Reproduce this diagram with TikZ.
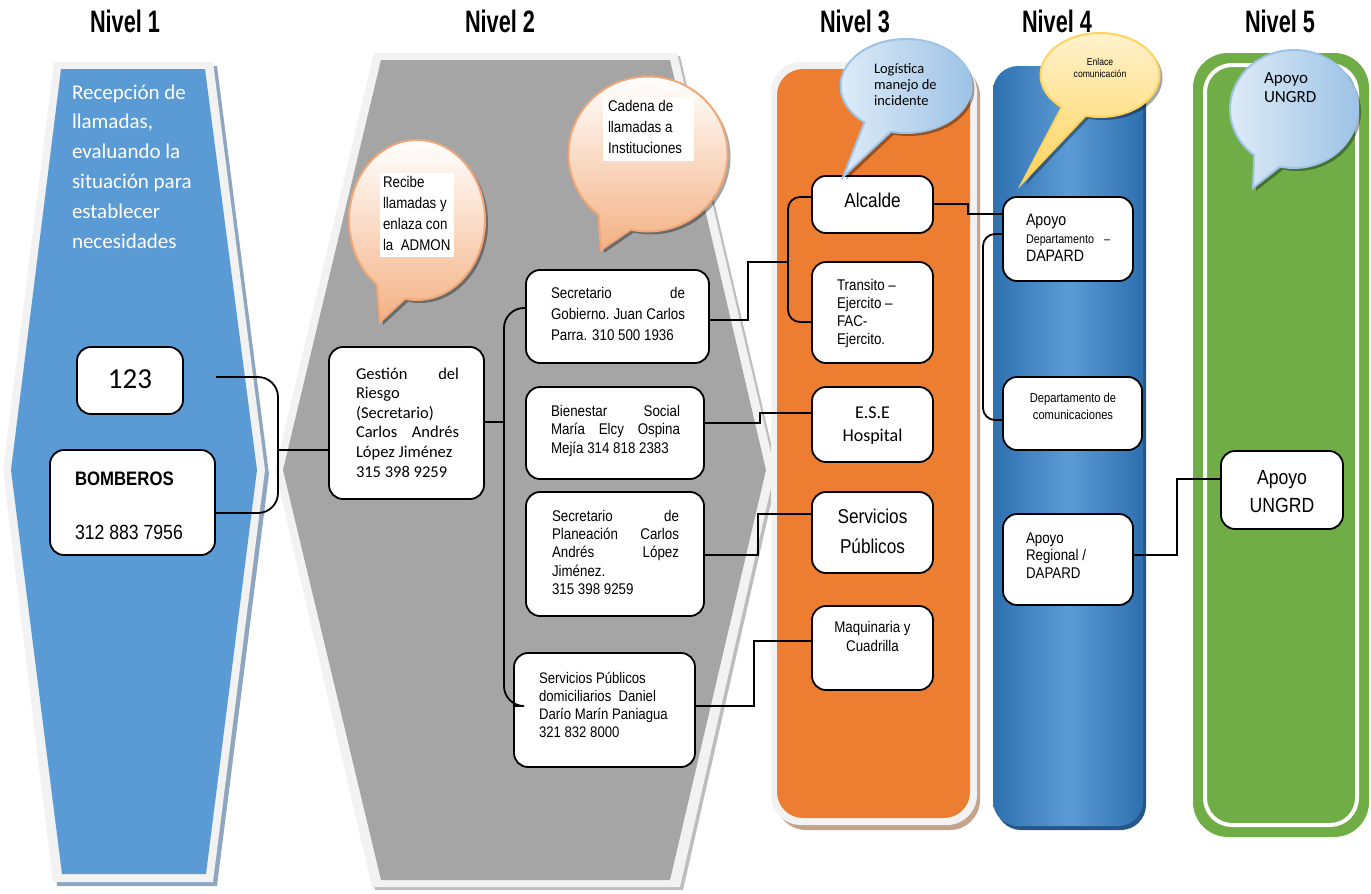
\documentclass[tikz,border=0pt]{standalone}
\usepackage{fontspec}
\setmainfont{Liberation Sans}
\newfontfamily\narrowf[FakeStretch=0.86]{Liberation Sans}
\newfontfamily\titlef[FakeStretch=0.70]{Liberation Sans}
\newfontfamily\calfont{Carlito}
\usetikzlibrary{shapes.callouts,shadows}
\definecolor{lone}{HTML}{5B9BD5}
\definecolor{lbord}{HTML}{F2F2F2}
\definecolor{lonesh}{HTML}{8EA6C0}
\definecolor{ltwo}{HTML}{A5A5A5}
\definecolor{ltwosh}{HTML}{BDBDBD}
\definecolor{lthree}{HTML}{ED7D31}
\definecolor{lthreesh}{HTML}{C4A38A}
\definecolor{lfourd}{HTML}{2E70B0}
\definecolor{lfourl}{HTML}{5B9BD5}
\definecolor{lfoursh}{HTML}{24578A}
\definecolor{lfive}{HTML}{70AD47}
\definecolor{peach}{HTML}{F4B183}
\definecolor{peachd}{HTML}{F0A878}
\definecolor{cblue}{HTML}{9DC3E6}
\definecolor{cbluel}{HTML}{DEEBF7}
\definecolor{cyel}{HTML}{FFD35C}
\definecolor{cyell}{HTML}{FFF2CC}
\newcommand{\mytb}[3]{\parbox[t]{#1}{#2#3}}
\newcommand{\myctb}[3]{\parbox[t]{#1}{\centering #2#3}}
\tikzset{
  bx/.style={draw=black, line width=1.8pt, fill=white, rounded corners=14pt, inner sep=0},
  wire/.style={draw=black, line width=1.8pt},
  txt/.style={inner sep=0, outer sep=0, anchor=base west},
  ctxt/.style={inner sep=0, outer sep=0, anchor=base},
  ttl/.style={inner sep=0, anchor=base, font=\titlef\bfseries\fontsize{31}{31}\selectfont},
  callbase/.style={ellipse callout, inner sep=0, line width=2pt, callout pointer arc=26,
     drop shadow={shadow xshift=3pt, shadow yshift=-3pt, fill=black, opacity=0.35}},
  peachcall/.style={callbase, top color=white, bottom color=peach, draw=peachd},
  bluecall/.style={callbase, shading=axis, shading angle=225, left color=cbluel, right color=cblue, draw=cblue},
  yelcall/.style={callbase, top color=cyell, bottom color=cyel, draw=cyel},
}
\begin{document}
\begin{tikzpicture}[x=1pt, y=-1pt]
\useasboundingbox (0,0) rectangle (1371,894);
% titles
\node[ttl] (t1) at (125,32) {Nivel 1};
\node[ttl] (t2) at (500,32) {Nivel 2};
\node[ttl] (t3) at (855,32) {Nivel 3};
\node[ttl] (t4) at (1057,32) {Nivel 4};
\node[ttl] (t5) at (1280,32) {Nivel 5};
% level 1
\fill[lonesh] (58,66) -- (217,66) -- (269,474) -- (217,886) -- (57,886) -- (7,474) -- cycle;
\fill[lbord] (54,62) -- (213,62) -- (265,470) -- (213,882) -- (53,882) -- (3,470) -- cycle;
\fill[lone] (61,69) -- (205,69) -- (257,470) -- (206,874) -- (62,874) -- (11,470) -- cycle;
% level 2
\fill[ltwosh] (377,56) -- (680,56) -- (778,473) -- (683,890) -- (375,890) -- (278,473) -- cycle;
\fill[lbord] (374,53) -- (677,53) -- (775,470) -- (680,887) -- (372,887) -- (275,470) -- cycle;
\fill[ltwo] (381,60) -- (670,60) -- (766,470) -- (670,880) -- (381,880) -- (283,470) -- cycle;
% level 3
\fill[lthreesh, rounded corners=30] (776,66) rectangle (980,830);
\fill[lbord, rounded corners=30] (771,62) rectangle (977,825);
\fill[lthree, rounded corners=26] (777,69) rectangle (970,818);
% level 4
\fill[lfoursh, rounded corners=25] (996,70) rectangle (1146,830);
\shade[left color=lfourd, right color=lfourd, middle color=lfourl, rounded corners=25] (993,66) rectangle (1143,826);
% level 5
\fill[lfive, rounded corners=35] (1193,53) rectangle (1369,837);
\draw[white, line width=4pt, rounded corners=27] (1205,65) rectangle (1357,825);

% level 1 text
\node[txt, text=white] (l1txt) at (72,99) {\mytb{150pt}{\calfont\fontsize{21}{29.9}\selectfont}{Recepción de\\llamadas,\\evaluando la\\situación para\\establecer\\necesidades}};

% boxes
\node[bx, minimum width=106, minimum height=67] (n123) at (130,380.5) {};
\node[bx, minimum width=165, minimum height=105] (bomb) at (132.5,502.5) {};
\node[bx, minimum width=155, minimum height=152] (gest) at (406.5,423) {};
\node[bx, minimum width=183, minimum height=93] (sgob) at (617.5,316.5) {};
\node[bx, minimum width=178, minimum height=92] (bien) at (615,433) {};
\node[bx, minimum width=178, minimum height=124] (plan) at (615,554) {};
\node[bx, minimum width=181, minimum height=114] (spub) at (604.5,710) {};
\node[bx, minimum width=121, minimum height=57] (alc) at (872.5,204.5) {};
\node[bx, minimum width=121, minimum height=101] (tra) at (872.5,312.5) {};
\node[bx, minimum width=121, minimum height=75] (ese) at (872.5,424.5) {};
\node[bx, minimum width=121, minimum height=81] (serv) at (872.5,532.5) {};
\node[bx, minimum width=121, minimum height=84] (maq) at (872.5,648) {};
\node[bx, minimum width=130, minimum height=84] (adep) at (1068,239) {};
\node[bx, minimum width=139, minimum height=73] (dcom) at (1072.5,413.5) {};
\node[bx, minimum width=130, minimum height=91] (areg) at (1068,559.5) {};
\node[bx, minimum width=122, minimum height=78] (ung) at (1282,490) {};

% connectors
\coordinate (c123) at (216,377);
\coordinate (j1) at (278,450);
\draw[wire, rounded corners=20] (c123) -- (278,377) -- (278,513) -- (bomb.east |- 0,513);
\draw[wire] (j1) -- (gest.west |- j1);
\coordinate (j2) at (504,422);
\draw[wire, rounded corners=20] (sgob.west |- 0,308) -- (504,308) -- (504,706) -- (spub.west |- 0,706);
\draw[wire] (gest.east |- j2) -- (j2);
\coordinate (j3) at (788,262);
\draw[wire] (sgob.east |- 0,320) -- (748,320) -- (748,262) -- (j3);
\draw[wire, rounded corners=12] (alc.west |- 0,197) -- (788,197) -- (788,322) -- (tra.west |- 0,322);
\draw[wire] (bien.east |- 0,423) -- (760,423) -- (760,413) -- (ese.west |- 0,413);
\draw[wire] (plan.east |- 0,555) -- (758,555) -- (758,514) -- (serv.west |- 0,514);
\draw[wire] (spub.east |- 0,706) -- (754,706) -- (754,641) -- (maq.west |- 0,641);
\draw[wire] (alc.east |- 0,204) -- (968,204) -- (968,214) -- (adep.west |- 0,214);
\draw[wire, rounded corners=12] (adep.west |- 0,234) -- (983,234) -- (983,420) -- (dcom.west |- 0,420);
\draw[wire] (areg.east |- 0,555) -- (1177,555) -- (1177,479) -- (ung.west |- 0,479);

% box texts
\node[ctxt] (x123) at (130,388) {\calfont\fontsize{29}{30}\selectfont 123};
\node[txt] (xbomb1) at (75,485) {\narrowf\bfseries\fontsize{19.5}{20}\selectfont BOMBEROS};
\node[txt] (xbomb2) at (75,539) {\narrowf\fontsize{20.5}{21}\selectfont 312 883 7956};
\node[txt] (xgest) at (356,379) {\mytb{103pt}{\calfont\fontsize{16.5}{19.6}\selectfont}{Gestión\hfill del\\Riesgo\\(Secretario)\\Carlos\hfill Andrés\\López Jiménez\\315 398 9259}};
\node[txt] (xsgob) at (551,298) {\mytb{134pt}{\narrowf\fontsize{15.5}{21}\selectfont}{Secretario\hfill de\\Gobierno.\hfill Juan\hfill Carlos\\Parra. 310 500 1936}};
\node[txt] (xbien) at (551,416) {\mytb{129pt}{\narrowf\fontsize{15.5}{18.5}\selectfont}{Bienestar\hfill Social\\María\hfill Elcy\hfill Ospina\\Mejía 314 818 2383}};
\node[txt] (xplan) at (552,521) {\mytb{127pt}{\narrowf\fontsize{15.5}{18.4}\selectfont}{Secretario\hfill de\\Planeación\hfill Carlos\\Andrés\hfill López\\Jiménez.\\315 398 9259}};
\node[txt] (xspub) at (539,683) {\mytb{145pt}{\narrowf\fontsize{15.3}{18}\selectfont}{Servicios Públicos\\domiciliarios\ \ Daniel\\Darío Marín Paniagua\\321 832 8000}};
\node[ctxt] (xalc) at (872.5,207) {\narrowf\fontsize{20}{20}\selectfont Alcalde};
\node[txt] (xtra) at (837,290) {\mytb{90pt}{\narrowf\fontsize{15.5}{18}\selectfont}{Transito –\\Ejercito –\\FAC-\\Ejercito.}};
\node[ctxt] (xese) at (872.5,418) {\myctb{110pt}{\calfont\fontsize{18}{23}\selectfont}{E.S.E\\Hospital}};
\node[ctxt] (xserv) at (872.5,523) {\myctb{110pt}{\narrowf\fontsize{20}{30}\selectfont}{Servicios\\Públicos}};
\node[ctxt] (xmaq) at (872.5,632) {\myctb{110pt}{\narrowf\fontsize{15.5}{19}\selectfont}{Maquinaria y\\Cuadrilla}};
\node[txt] (xadep) at (1026,225) {\mytb{84pt}{\narrowf\fontsize{16.5}{18}\selectfont}{Apoyo\\{\fontsize{12.5}{18}\selectfont Departamento\hfill –}\\DAPARD}};
\node[ctxt] (xdcom) at (1073,402) {\myctb{130pt}{\narrowf\fontsize{13}{17}\selectfont}{Departamento de\\comunicaciones}};
\node[txt] (xareg) at (1026,543) {\mytb{100pt}{\narrowf\fontsize{15.5}{17.5}\selectfont}{Apoyo\\Regional /\\DAPARD}};
\node[ctxt] (xung) at (1282,484) {\myctb{110pt}{\narrowf\fontsize{20.5}{28}\selectfont}{Apoyo\\UNGRD}};

% callouts
\node[peachcall, minimum width=136, minimum height=160, callout absolute pointer={(380,322)}] (cl1) at (417,220) {};
\node[peachcall, minimum width=159, minimum height=155, callout absolute pointer={(601,250)}] (cl2) at (648,154) {};
\node[bluecall, minimum width=131, minimum height=94, callout absolute pointer={(843,177)}] (cl3) at (906,86) {};
\node[yelcall, minimum width=119, minimum height=84, callout absolute pointer={(1022,183)}] (cl4) at (1100,75) {};
\node[bluecall, minimum width=128, minimum height=118, callout absolute pointer={(1253,188)}] (cl5) at (1294,109) {};
\fill[white] (380,173) rectangle (454,257);
\fill[white] (603,97) rectangle (694,161);
\node[txt] (xcl1) at (383,187) {\mytb{80pt}{\narrowf\fontsize{15.5}{21}\selectfont}{Recibe\\llamadas y\\enlaza con\\la\ \ ADMON}};
\node[txt] (xcl2) at (608,111) {\mytb{95pt}{\narrowf\fontsize{15.5}{21}\selectfont}{Cadena de\\llamadas a\\Instituciones}};
\node[txt] (xcl3) at (874,73) {\mytb{80pt}{\calfont\fontsize{14.5}{16}\selectfont}{Logística\\manejo de\\incidente}};
\node[ctxt] (xcl4) at (1100,65) {\myctb{90pt}{\narrowf\fontsize{10}{12}\selectfont}{Enlace\\comunicación}};
\node[txt] (xcl5) at (1264,83) {\mytb{70pt}{\calfont\fontsize{17}{19.5}\selectfont}{Apoyo\\UNGRD}};
\end{tikzpicture}
\end{document}
